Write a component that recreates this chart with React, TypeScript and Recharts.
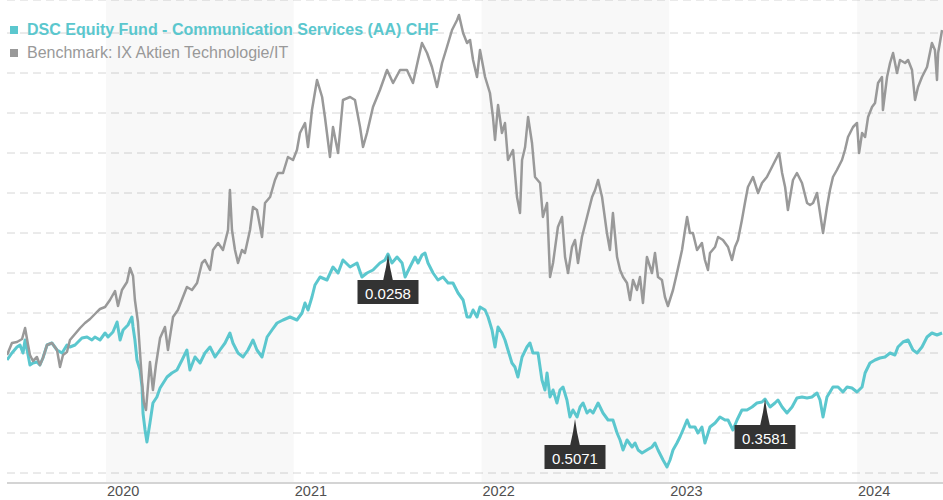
import React from 'react';
import { LineChart, Line, XAxis, YAxis, CartesianGrid, ReferenceArea, ReferenceDot } from 'recharts';

// Dates as decimal years, values as index levels
const fundDates = [2019.473,2019.499,2019.526,2019.542,2019.558,2019.569,2019.585,2019.595,2019.611,2019.632,2019.648,2019.664,2019.686,2019.712,2019.739,2019.766,2019.792,2019.808,2019.835,2019.872,2019.899,2019.925,2019.941,2019.968,2019.995,2020.011,2020.037,2020.059,2020.075,2020.091,2020.117,2020.138,2020.144,2020.154,2020.165,2020.181,2020.192,2020.197,2020.208,2020.218,2020.234,2020.250,2020.271,2020.288,2020.325,2020.351,2020.378,2020.405,2020.431,2020.447,2020.474,2020.501,2020.527,2020.554,2020.581,2020.607,2020.634,2020.660,2020.676,2020.703,2020.730,2020.756,2020.783,2020.804,2020.831,2020.858,2020.884,2020.911,2020.943,2020.980,2021.017,2021.044,2021.060,2021.076,2021.097,2021.113,2021.140,2021.177,2021.209,2021.236,2021.262,2021.300,2021.337,2021.363,2021.390,2021.422,2021.459,2021.486,2021.502,2021.523,2021.550,2021.577,2021.593,2021.619,2021.646,2021.662,2021.683,2021.699,2021.715,2021.742,2021.768,2021.795,2021.822,2021.848,2021.875,2021.902,2021.923,2021.939,2021.955,2021.976,2021.992,2022.019,2022.035,2022.056,2022.072,2022.088,2022.109,2022.125,2022.141,2022.162,2022.178,2022.194,2022.216,2022.242,2022.258,2022.274,2022.301,2022.322,2022.338,2022.349,2022.365,2022.381,2022.402,2022.418,2022.434,2022.455,2022.471,2022.487,2022.509,2022.525,2022.541,2022.562,2022.578,2022.594,2022.621,2022.647,2022.674,2022.700,2022.722,2022.738,2022.754,2022.775,2022.802,2022.818,2022.834,2022.855,2022.881,2022.908,2022.924,2022.940,2022.967,2022.988,2023.004,2023.020,2023.041,2023.057,2023.073,2023.095,2023.110,2023.137,2023.153,2023.174,2023.190,2023.217,2023.244,2023.270,2023.297,2023.313,2023.339,2023.361,2023.387,2023.414,2023.441,2023.467,2023.494,2023.510,2023.537,2023.563,2023.579,2023.601,2023.627,2023.654,2023.680,2023.707,2023.734,2023.760,2023.787,2023.803,2023.819,2023.840,2023.872,2023.899,2023.925,2023.947,2023.973,2024.000,2024.027,2024.043,2024.069,2024.096,2024.122,2024.149,2024.176,2024.202,2024.218,2024.245,2024.272,2024.298,2024.320,2024.346,2024.373,2024.399,2024.426,2024.453];
const fundValues = [98.25,100,101.5,102,100,103.25,99.5,97,97.5,97.75,97,98.75,102,102.5,100.75,100,102,101.5,102,103.75,104,103.25,104,103.25,105,104,105.25,107.75,103.25,105.75,107,109,106.5,103.25,98.25,95.75,91.5,85,80.75,77.75,82.5,87.5,89,91.25,94,95,95.75,98.25,100.75,95.75,99,97.5,100,101.5,99,100.75,102.5,105,102.5,100,99,100.75,103.25,100.75,99,104,105.75,107.5,108.25,109,108.25,110,112.5,110.75,114,117,119,118.25,121.5,120,123.25,121.5,122.5,119,120,120.75,122.5,123.25,124.75,122.5,124,122.5,119,121.5,124,122.5,124.5,125,122.5,120,118.25,119,117.5,117.5,115,113.25,109,109,110.75,109,111.5,110.75,109,105.75,101.5,106.5,105,103.25,100.75,97.5,96.5,94,99,101.5,102.5,100,100,93.25,90.75,95,89,90.75,87.5,90.75,91.5,88.25,84,85.75,84,86.5,87.5,85,85.75,85,87.5,85,83.25,83.25,80,78.25,75.75,78.25,76.5,77.5,75.75,75,75.75,76.5,77.5,75.75,73.25,71.5,73.25,75.75,77.5,79,80.75,83.25,81.5,81.5,80,81.5,77.5,81.5,82.5,84,83.25,83.25,80.75,83.25,85.75,85.75,86.5,87.5,87.75,88.5,86.5,87.5,88.25,86.5,85,86.5,88.75,89,88.75,89,90,88.25,84,89,91.5,91.5,90.25,91.5,91.25,90.25,91.5,95,97.5,98.25,98.75,99,100,99.5,101.5,102.75,103.25,100.75,100,101.5,104,105,104.5,105];

const benchDates = [2019.473,2019.499,2019.526,2019.553,2019.569,2019.585,2019.595,2019.611,2019.632,2019.648,2019.664,2019.686,2019.712,2019.739,2019.755,2019.771,2019.792,2019.808,2019.835,2019.862,2019.888,2019.915,2019.941,2019.968,2019.995,2020.021,2020.048,2020.064,2020.085,2020.112,2020.128,2020.144,2020.154,2020.170,2020.181,2020.192,2020.202,2020.213,2020.224,2020.234,2020.250,2020.266,2020.288,2020.314,2020.330,2020.357,2020.383,2020.410,2020.431,2020.458,2020.485,2020.511,2020.527,2020.554,2020.570,2020.597,2020.623,2020.650,2020.660,2020.671,2020.687,2020.703,2020.724,2020.740,2020.767,2020.783,2020.804,2020.831,2020.847,2020.874,2020.900,2020.916,2020.943,2020.969,2020.996,2021.017,2021.033,2021.060,2021.076,2021.097,2021.124,2021.151,2021.166,2021.193,2021.209,2021.236,2021.262,2021.300,2021.326,2021.353,2021.369,2021.390,2021.422,2021.459,2021.497,2021.529,2021.566,2021.603,2021.635,2021.662,2021.683,2021.710,2021.736,2021.763,2021.790,2021.816,2021.843,2021.870,2021.880,2021.902,2021.923,2021.939,2021.955,2021.976,2021.992,2022.019,2022.045,2022.061,2022.072,2022.088,2022.109,2022.125,2022.141,2022.168,2022.189,2022.205,2022.216,2022.232,2022.248,2022.269,2022.285,2022.312,2022.327,2022.349,2022.365,2022.381,2022.407,2022.429,2022.445,2022.461,2022.482,2022.498,2022.514,2022.535,2022.562,2022.589,2022.605,2022.621,2022.642,2022.668,2022.684,2022.700,2022.722,2022.738,2022.754,2022.775,2022.791,2022.807,2022.828,2022.844,2022.860,2022.881,2022.908,2022.924,2022.940,2022.961,2022.977,2022.993,2023.020,2023.041,2023.068,2023.084,2023.095,2023.110,2023.126,2023.148,2023.174,2023.190,2023.206,2023.217,2023.244,2023.260,2023.286,2023.313,2023.334,2023.350,2023.366,2023.387,2023.403,2023.419,2023.446,2023.473,2023.494,2023.520,2023.547,2023.574,2023.585,2023.601,2023.617,2023.632,2023.659,2023.680,2023.707,2023.734,2023.750,2023.766,2023.787,2023.803,2023.819,2023.840,2023.856,2023.872,2023.893,2023.920,2023.936,2023.952,2023.979,2024.000,2024.011,2024.027,2024.043,2024.059,2024.080,2024.096,2024.112,2024.133,2024.138,2024.160,2024.176,2024.192,2024.213,2024.229,2024.256,2024.272,2024.293,2024.309,2024.325,2024.346,2024.373,2024.399,2024.415,2024.426,2024.432,2024.453];
const benchValues = [99.5,102.5,102.75,103.5,106.25,102,99.5,98,99,97,98.75,102,102.5,100.75,96.5,99.5,100.25,103.25,104.75,106.25,107.5,108.5,109.75,111,111.5,113.25,115.5,111.75,115.75,117.75,121.25,119.25,113.25,107.75,100.25,92.75,87.5,85.75,92,97.75,90.75,97,103.75,106.5,100.75,109,110.75,114,116.5,115.75,117.5,122.5,123.25,120.75,125.75,127.5,125.75,130.75,140.75,130.75,125.75,122.5,125.75,125,130.75,136.5,135.75,129,137.5,139,143.25,145,145,149,148.25,150.75,155,157.5,151.5,160.75,168.25,164,159,149,156.5,150,163.25,164,163.25,156.5,151.5,155,161.5,165.75,170.75,167.5,170.75,170.75,167.5,173.25,177.5,175,171.5,166.5,172.5,176.5,180.75,183.25,184.5,180,177.5,178.25,173.25,169,175.75,169,165,159,153.25,162,155,157.5,148.25,150.75,139,135,148.25,151.5,159,152.5,144,142.5,134,137.5,119,122.5,131.5,134,124,120,126.5,128.25,122.5,129,134,139,140.75,143.25,139,130,125.75,135,124,120.75,119,117.5,113.25,118.25,115.75,119,112.5,124,120,125,119,118.25,114,111.75,115.75,120,125.75,130.75,134,130,130,125.75,127.5,123.25,120.75,125,126.5,129,128.25,126.5,123.25,126.5,128.25,133.25,137.5,141.5,144,140,142.5,144,146.5,149,150,145,141.5,135.75,143.25,145,142.5,137.5,137,137.5,140,135,130,136.5,140.75,144,145.75,148.25,150.75,154,156.5,157.5,150,155,154,159,161.5,162.5,167.5,169,160.75,169,172.5,175,170,173.25,172.5,173.25,170.75,163.25,166.5,169,171.5,177.5,175.75,168.25,175,180.75];

const yearTicks = [2020, 2021, 2022, 2023, 2024];
const yearLabels = ['2020', '2021', '2022', '2023', '2024'];
const shadedYearStarts = [2020, 2022, 2024];
const gridValues = [70, 80, 90, 100, 110, 120, 130, 140, 150, 160, 170, 180];

const calloutDates = [2021.502, 2022.498, 2023.510];
const calloutValues = [124.75, 83.5, 88.5];
const calloutLabels = ['0.0258', '0.5071', '0.3581'];

const seriesNames = ['DSC Equity Fund - Communication Services (AA) CHF', 'Benchmark: IX Aktien Technologie/IT'];

const X_MIN = 2019.4727;
const X_MAX = 2024.458;
const TEAL = '#5bc7ce';
const GREY = '#999999';
const FONT = "'Liberation Sans', Arial, sans-serif";

const fundData = fundDates.map((t, i) => ({ t, v: fundValues[i] }));
const benchData = benchDates.map((t, i) => ({ t, v: benchValues[i] }));

const YearTick = (props: any) => {
  const { x, y, payload } = props;
  const idx = yearTicks.indexOf(payload.value);
  return (
    <text x={x + 1} y={y + 5} fill="#505050" fontSize={14.5} fontFamily={FONT} textAnchor="start">
      {idx >= 0 ? yearLabels[idx] : String(payload.value)}
    </text>
  );
};

const makeCallout = (label: string) => (props: any) => {
  const { cx, cy } = props;
  if (cx == null || cy == null) return <g />;
  const spike = 26;
  const w = 61;
  const h = 24;
  const top = cy + spike;
  return (
    <g>
      <path d={`M${cx},${cy} L${cx - 2},${cy + 13} L${cx - 5},${top + 1} L${cx + 5},${top + 1} L${cx + 2},${cy + 13} Z`} fill="#333333" />
      <rect x={cx - w / 2} y={top} width={w} height={h} fill="#333333" />
      <text x={cx} y={top + 19} fill="#ffffff" fontSize={15} fontFamily={FONT} textAnchor="middle">
        {label}
      </text>
    </g>
  );
};

const LegendOverlay = () => (
  <div style={{ position: 'absolute', left: 0, top: 0, width: 500, height: 60, fontFamily: FONT, fontSize: 16, pointerEvents: 'none' }}>
    <div style={{ position: 'absolute', left: 10, top: 26, width: 8, height: 8, background: TEAL }} />
    <div style={{ position: 'absolute', left: 27, top: 21, lineHeight: '18px', color: TEAL, fontWeight: 'bold', whiteSpace: 'nowrap' }}>
      {seriesNames[0]}
    </div>
    <div style={{ position: 'absolute', left: 10, top: 49, width: 8, height: 8, background: GREY }} />
    <div style={{ position: 'absolute', left: 27, top: 44, lineHeight: '18px', color: GREY, whiteSpace: 'nowrap' }}>
      {seriesNames[1]}
    </div>
  </div>
);

export default function App() {
  return (
    <div style={{ position: 'absolute', left: 0, top: 0, width: 943, height: 500, background: '#ffffff', fontFamily: FONT }}>
      <LineChart width={943} height={500} margin={{ top: 0, right: 0, bottom: 0, left: 7 }}>
        <XAxis
          dataKey="t"
          type="number"
          domain={[X_MIN, X_MAX]}
          allowDataOverflow
          ticks={yearTicks}
          tick={<YearTick />}
          tickLine={false}
          axisLine={{ stroke: '#d4d4d4', strokeWidth: 2 }}
          height={17}
          interval={0}
        />
        <YAxis hide type="number" domain={[67.5, 188.25]} allowDataOverflow ticks={gridValues} />
        {shadedYearStarts.map((s) => (
          <ReferenceArea
            key={s}
            x1={s}
            x2={Math.min(s + 1, X_MAX)}
            fill="#000000"
            fillOpacity={0.028}
            stroke="none"
            ifOverflow="hidden"
          />
        ))}
        <CartesianGrid horizontal vertical={false} stroke="#d6d6d6" strokeDasharray="8 5" />
        <Line data={fundData} dataKey="v" name={seriesNames[0]} stroke={TEAL} strokeWidth={3} strokeLinejoin="round" dot={false} isAnimationActive={false} />
        <Line data={benchData} dataKey="v" name={seriesNames[1]} stroke={GREY} strokeWidth={2.5} strokeLinejoin="round" dot={false} isAnimationActive={false} />
        {calloutDates.map((d, i) => (
          <ReferenceDot key={i} x={d} y={calloutValues[i]} r={0} shape={makeCallout(calloutLabels[i])} ifOverflow="visible" />
        ))}
      </LineChart>
      <LegendOverlay />
    </div>
  );
}
